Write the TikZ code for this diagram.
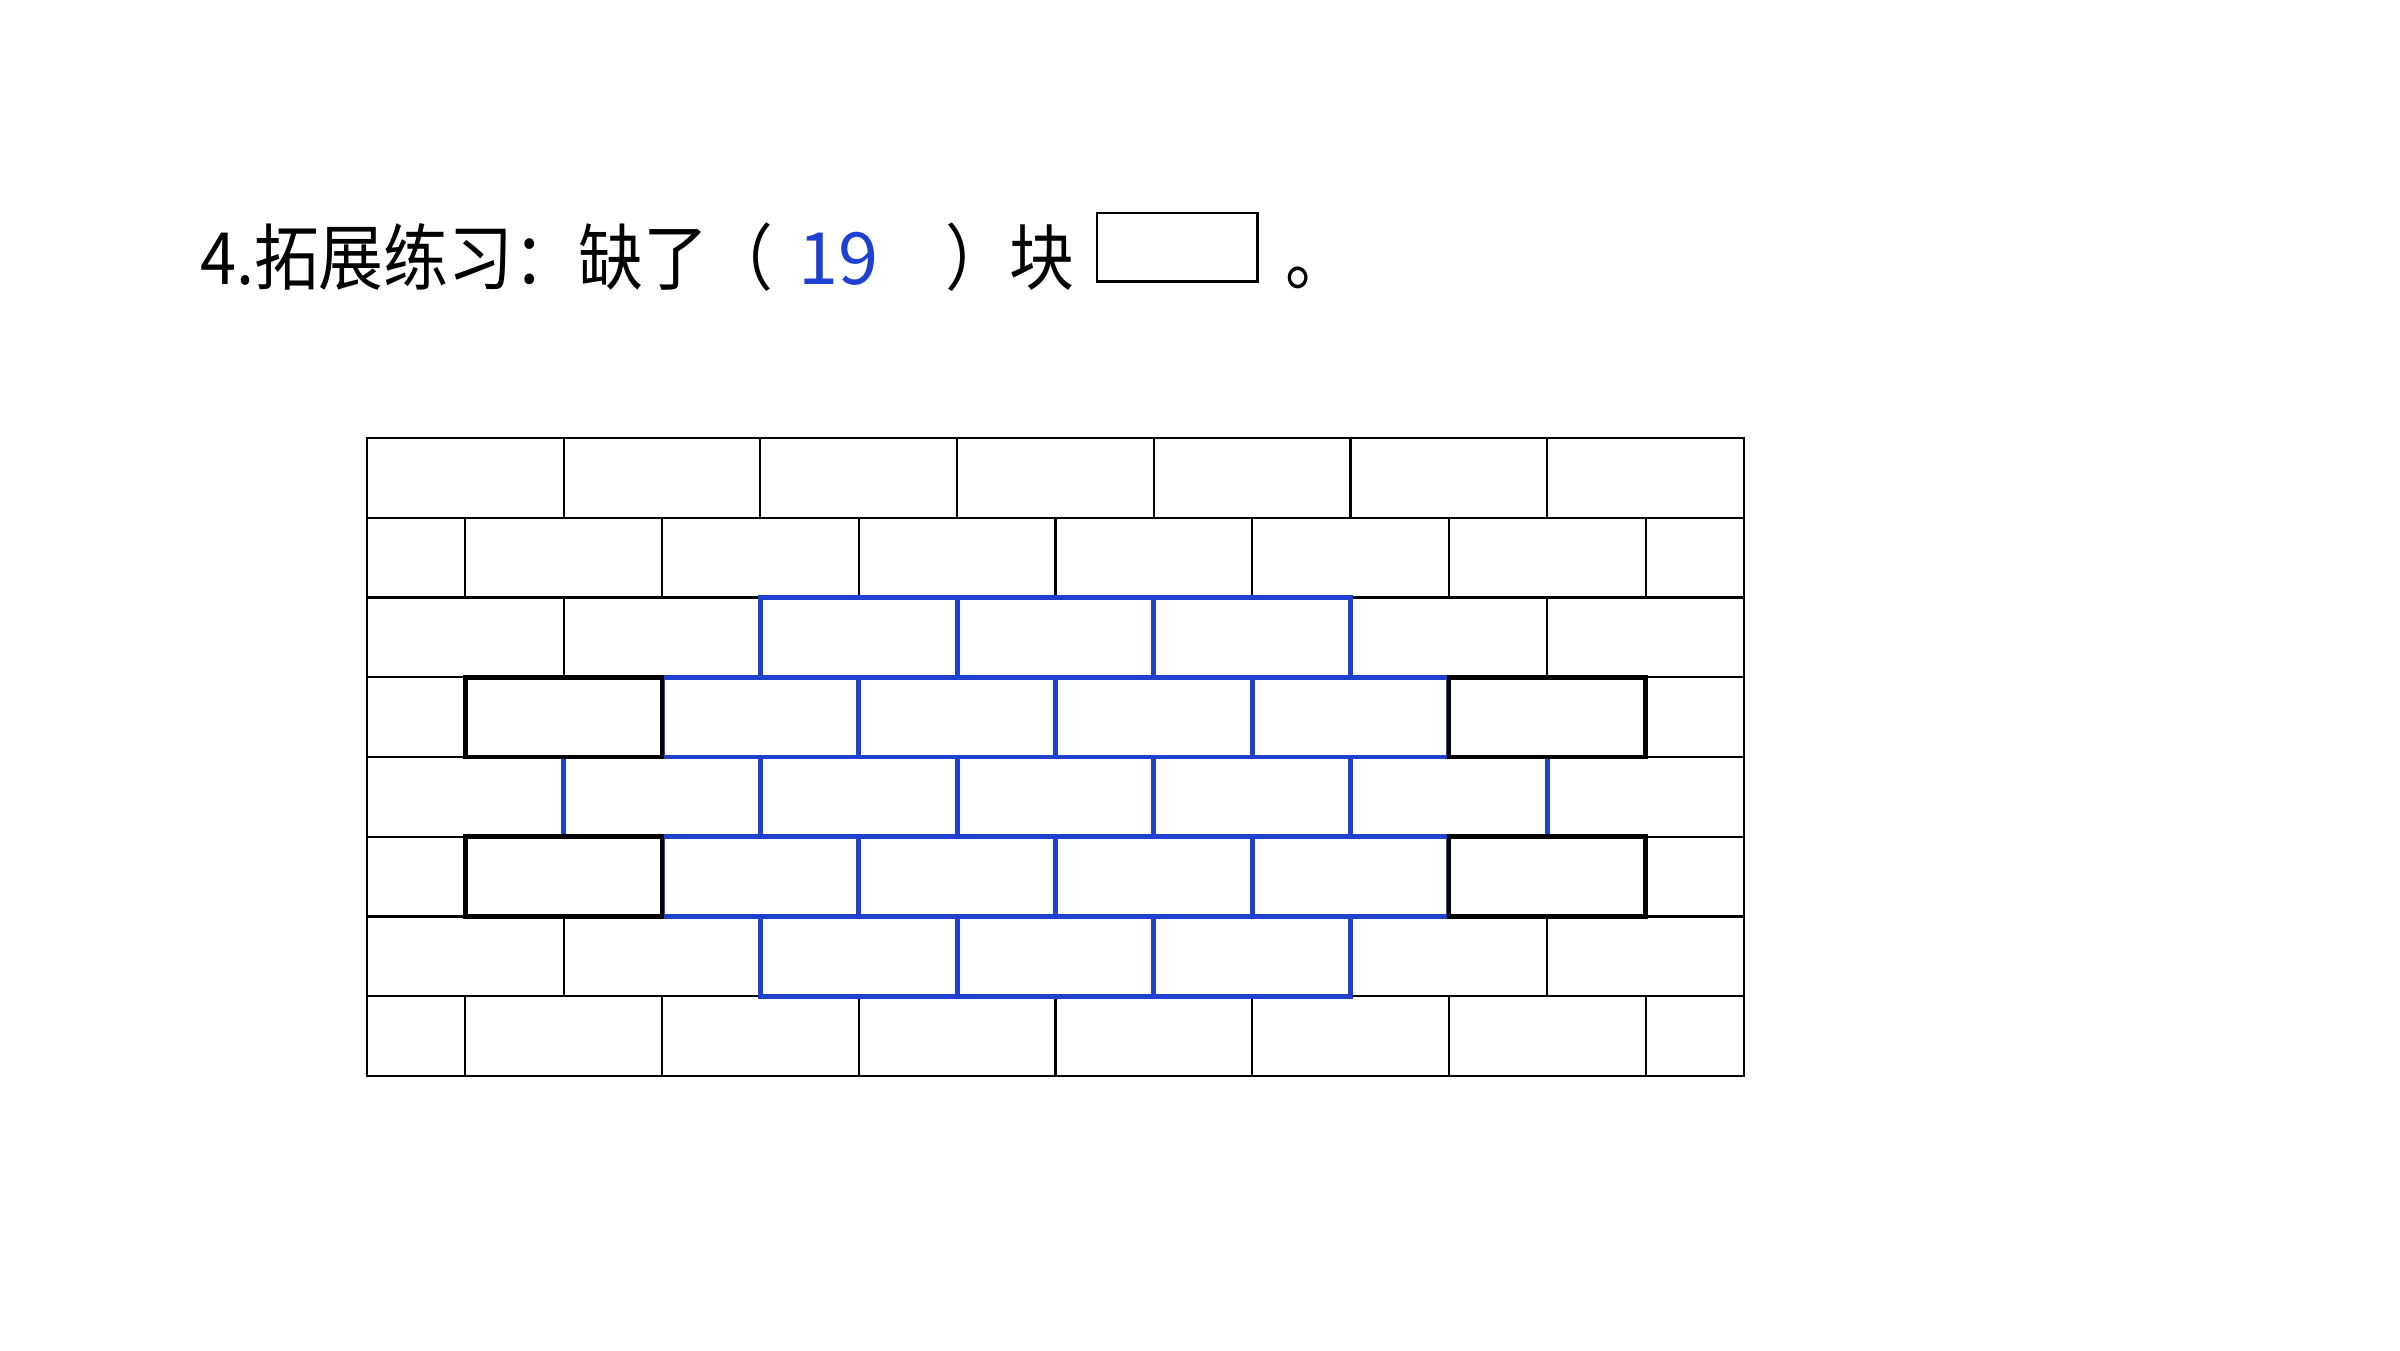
\documentclass[tikz,border=0pt]{standalone}
\usepackage{fontspec}
\newfontfamily\cjk[FakeStretch=0.9]{Noto Sans CJK SC}
\newfontfamily\cjkwide{Noto Sans CJK SC}
\definecolor{brickblue}{RGB}{32,64,208}
\begin{document}
\begin{tikzpicture}[x=0.01cm,y=-0.01cm,
  thinline/.style={line width=0.6pt, draw=black},
  bluebrick/.style={line width=1.4pt, draw=brickblue},
  blackbrick/.style={line width=1.3pt, draw=black},
  titletext/.style={font=\cjk\fontsize{20.5pt}{24pt}\selectfont, inner sep=0pt, outer sep=0pt, anchor=base west}]
\useasboundingbox (0,0) rectangle (2400,1350);
\def\xo{367}\def\yo{438}\def\bw{196.7}\def\bh{79.75}
% grid
\draw[thinline] (\xo,\yo) rectangle (\xo+7*\bw,\yo+8*\bh);
\foreach \r in {1,...,7} \draw[thinline] (\xo,\yo+\r*\bh) -- (\xo+7*\bw,\yo+\r*\bh);
\foreach \r in {0,2,4,6} \foreach \k in {1,...,6} \draw[thinline] (\xo+\k*\bw,\yo+\r*\bh) -- ++(0,\bh);
\foreach \r in {1,3,5,7} \foreach \k in {0,...,6} \draw[thinline] (\xo+\k*\bw+0.5*\bw,\yo+\r*\bh) -- ++(0,\bh);
% blue bricks
\foreach \r/\a/\b/\sh in {2/2/4/0, 3/1/4/0.5, 4/1/5/0, 5/1/4/0.5, 6/2/4/0}
  \foreach \k in {\a,...,\b}
    \draw[bluebrick] (\xo+\k*\bw+\sh*\bw,\yo+\r*\bh) rectangle ++(\bw,\bh);
% black bricks
\foreach \r in {3,5} \foreach \k in {0,5}
  \draw[blackbrick] (\xo+\k*\bw+0.5*\bw,\yo+\r*\bh) rectangle ++(\bw,\bh);
% title
\node[titletext] (t1) at (200,284) {4.拓展练习：缺了（};
\node[titletext, font=\cjkwide\fontsize{20.5pt}{24pt}\selectfont, text=brickblue] (t2) at (798,284) {19};
\node[titletext] (t3) at (945,284) {）块};
\node[draw, line width=0.7pt, minimum width=1.6cm, minimum height=0.68cm, anchor=north west, inner sep=0pt] (bx) at (1096,212) {};
\node[titletext] (t4) at (1285,284) {。};
\end{tikzpicture}
\end{document}
